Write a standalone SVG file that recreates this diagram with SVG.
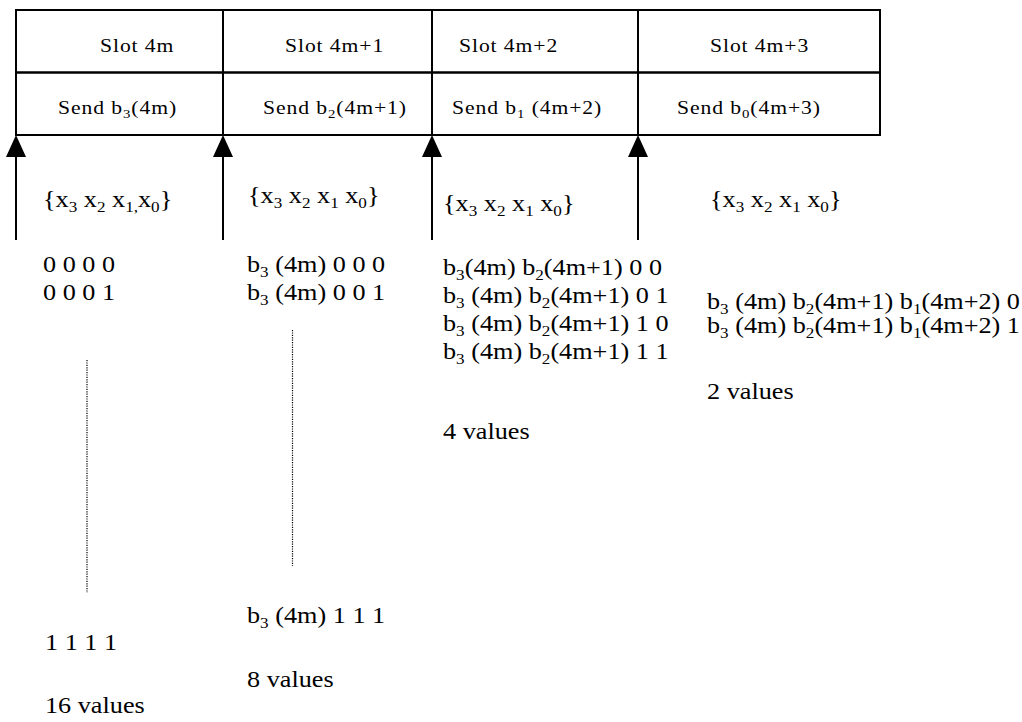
<svg xmlns="http://www.w3.org/2000/svg" width="1022" height="722" viewBox="0 0 1022 722">
<style>
.cell{fill:none;stroke:#000;stroke-width:2}
.hd{font-family:"Liberation Serif","Times New Roman",serif;font-size:19px;letter-spacing:0.8px;fill:#000}
.bd{font-family:"Liberation Serif","Times New Roman",serif;font-size:23px;fill:#000}
.hs{font-size:13px}
.bs{font-size:15px}
.arr{stroke:#000;stroke-width:2;fill:none}
.dot{stroke:#000;stroke-width:1.2;stroke-dasharray:1.2 1.2;fill:none}
</style>
<defs>
<marker id="ah" viewBox="0 0 22 20" refX="17" refY="10" markerWidth="22" markerHeight="20" markerUnits="userSpaceOnUse" orient="auto"><path d="M0,0 L22,10 L0,20 z" fill="#000"/></marker>
</defs>
<rect width="1022" height="722" fill="#fff"/>
<g id="slot-4m">
<rect class="cell" x="16" y="10" width="207" height="62.5"/>
<rect class="cell" x="16" y="72.5" width="207" height="62.5"/>
<text class="hd" transform="matrix(1.14,0,0,1,100,52)">Slot 4m</text>
<text class="hd" transform="matrix(1.14,0,0,1,58,114)">Send b<tspan class="hs" dy="4">3</tspan><tspan dy="-4">(4m)</tspan></text>
</g>
<g id="slot-4m1">
<rect class="cell" x="223" y="10" width="209" height="62.5"/>
<rect class="cell" x="223" y="72.5" width="209" height="62.5"/>
<text class="hd" transform="matrix(1.14,0,0,1,285,52)">Slot 4m+1</text>
<text class="hd" transform="matrix(1.14,0,0,1,263,114)">Send b<tspan class="hs" dy="4">2</tspan><tspan dy="-4">(4m+1)</tspan></text>
</g>
<g id="slot-4m2">
<rect class="cell" x="432" y="10" width="206" height="62.5"/>
<rect class="cell" x="432" y="72.5" width="206" height="62.5"/>
<text class="hd" transform="matrix(1.14,0,0,1,459,52)">Slot 4m+2</text>
<text class="hd" transform="matrix(1.14,0,0,1,452,114)">Send b<tspan class="hs" dy="4">1</tspan><tspan dy="-4"> (4m+2)</tspan></text>
</g>
<g id="slot-4m3">
<rect class="cell" x="638" y="10" width="242" height="62.5"/>
<rect class="cell" x="638" y="72.5" width="242" height="62.5"/>
<text class="hd" transform="matrix(1.14,0,0,1,710,52)">Slot 4m+3</text>
<text class="hd" transform="matrix(1.14,0,0,1,677,114)">Send b<tspan class="hs" dy="4">0</tspan><tspan dy="-4">(4m+3)</tspan></text>
</g>
<g id="connectors">
<line class="arr" x1="16" y1="240" x2="16" y2="140" marker-end="url(#ah)"/>
<line class="arr" x1="223" y1="240" x2="223" y2="140" marker-end="url(#ah)"/>
<line class="arr" x1="432" y1="240" x2="432" y2="140" marker-end="url(#ah)"/>
<line class="arr" x1="638" y1="240" x2="638" y2="140" marker-end="url(#ah)"/>
</g>
<g id="col-1">
<text class="bd" transform="matrix(1.14,0,0,1,43,207)">{x<tspan class="bs" dy="5">3</tspan><tspan dy="-5"> x</tspan><tspan class="bs" dy="5">2</tspan><tspan dy="-5"> x</tspan><tspan class="bs" dy="5">1,</tspan><tspan dy="-5">x</tspan><tspan class="bs" dy="5">0</tspan><tspan dy="-5">}</tspan></text>
<text class="bd" transform="matrix(1.14,0,0,1,43,272)">0 0 0 0</text>
<text class="bd" transform="matrix(1.14,0,0,1,43,300)">0 0 0 1</text>
<line class="dot" x1="87" y1="360" x2="87" y2="593"/>
<text class="bd" transform="matrix(1.14,0,0,1,45,650)">1 1 1 1</text>
<text class="bd" transform="matrix(1.14,0,0,1,45,713)">16 values</text>
</g>
<g id="col-2">
<text class="bd" transform="matrix(1.14,0,0,1,248,203)">{x<tspan class="bs" dy="5">3</tspan><tspan dy="-5"> x</tspan><tspan class="bs" dy="5">2</tspan><tspan dy="-5"> x</tspan><tspan class="bs" dy="5">1</tspan><tspan dy="-5"> x</tspan><tspan class="bs" dy="5">0</tspan><tspan dy="-5">}</tspan></text>
<text class="bd" transform="matrix(1.14,0,0,1,247,272)">b<tspan class="bs" dy="5">3</tspan><tspan dy="-5"> (4m) 0 0 0</tspan></text>
<text class="bd" transform="matrix(1.14,0,0,1,247,300)">b<tspan class="bs" dy="5">3</tspan><tspan dy="-5"> (4m) 0 0 1</tspan></text>
<line class="dot" x1="292.5" y1="330" x2="292.5" y2="566"/>
<text class="bd" transform="matrix(1.14,0,0,1,247,623)">b<tspan class="bs" dy="5">3</tspan><tspan dy="-5"> (4m) 1 1 1</tspan></text>
<text class="bd" transform="matrix(1.14,0,0,1,247,687)">8 values</text>
</g>
<g id="col-3">
<text class="bd" transform="matrix(1.14,0,0,1,443,211)">{x<tspan class="bs" dy="5">3</tspan><tspan dy="-5"> x</tspan><tspan class="bs" dy="5">2</tspan><tspan dy="-5"> x</tspan><tspan class="bs" dy="5">1</tspan><tspan dy="-5"> x</tspan><tspan class="bs" dy="5">0</tspan><tspan dy="-5">}</tspan></text>
<text class="bd" transform="matrix(1.14,0,0,1,443,275)">b<tspan class="bs" dy="5">3</tspan><tspan dy="-5">(4m) b</tspan><tspan class="bs" dy="5">2</tspan><tspan dy="-5">(4m+1) 0 0</tspan></text>
<text class="bd" transform="matrix(1.14,0,0,1,443,303)">b<tspan class="bs" dy="5">3</tspan><tspan dy="-5"> (4m) b</tspan><tspan class="bs" dy="5">2</tspan><tspan dy="-5">(4m+1) 0 1</tspan></text>
<text class="bd" transform="matrix(1.14,0,0,1,443,331)">b<tspan class="bs" dy="5">3</tspan><tspan dy="-5"> (4m) b</tspan><tspan class="bs" dy="5">2</tspan><tspan dy="-5">(4m+1) 1 0</tspan></text>
<text class="bd" transform="matrix(1.14,0,0,1,443,359)">b<tspan class="bs" dy="5">3</tspan><tspan dy="-5"> (4m) b</tspan><tspan class="bs" dy="5">2</tspan><tspan dy="-5">(4m+1) 1 1</tspan></text>
<text class="bd" transform="matrix(1.14,0,0,1,443,439)">4 values</text>
</g>
<g id="col-4">
<text class="bd" transform="matrix(1.14,0,0,1,710,207)">{x<tspan class="bs" dy="5">3</tspan><tspan dy="-5"> x</tspan><tspan class="bs" dy="5">2</tspan><tspan dy="-5"> x</tspan><tspan class="bs" dy="5">1</tspan><tspan dy="-5"> x</tspan><tspan class="bs" dy="5">0</tspan><tspan dy="-5">}</tspan></text>
<text class="bd" transform="matrix(1.14,0,0,1,707,309)">b<tspan class="bs" dy="5">3</tspan><tspan dy="-5"> (4m) b</tspan><tspan class="bs" dy="5">2</tspan><tspan dy="-5">(4m+1) b</tspan><tspan class="bs" dy="5">1</tspan><tspan dy="-5">(4m+2) 0</tspan></text>
<text class="bd" transform="matrix(1.14,0,0,1,707,333)">b<tspan class="bs" dy="5">3</tspan><tspan dy="-5"> (4m) b</tspan><tspan class="bs" dy="5">2</tspan><tspan dy="-5">(4m+1) b</tspan><tspan class="bs" dy="5">1</tspan><tspan dy="-5">(4m+2) 1</tspan></text>
<text class="bd" transform="matrix(1.14,0,0,1,707,399)">2 values</text>
</g>
</svg>
